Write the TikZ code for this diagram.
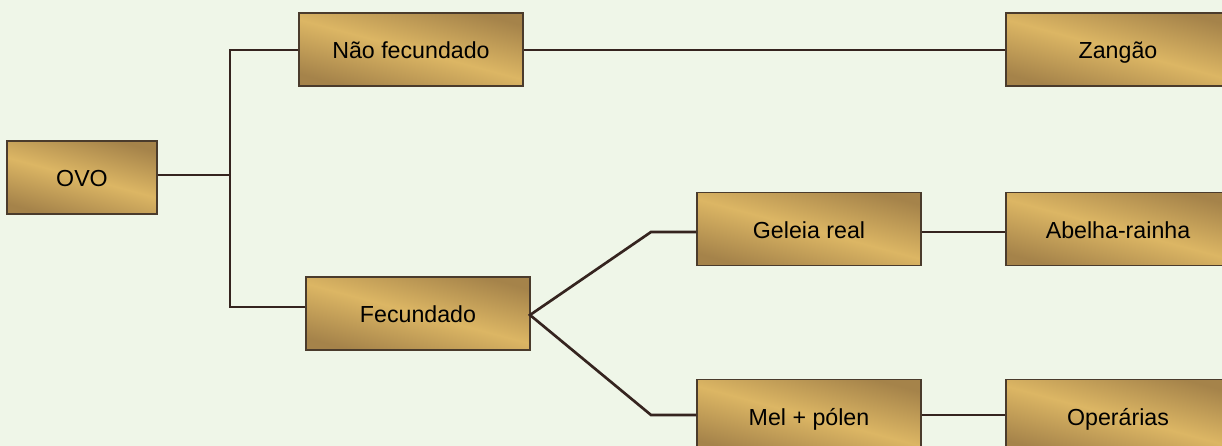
\documentclass[tikz,border=0pt]{standalone}
\usepackage{fontspec}
\setmainfont{Liberation Sans}
\usetikzlibrary{calc}
\definecolor{bgcol}{HTML}{EFF6E8}
\definecolor{golddark}{HTML}{A5834A}
\definecolor{goldlight}{HTML}{DCB664}
\definecolor{edgecol}{HTML}{4A3B2C}
\definecolor{linecol}{HTML}{35241F}
\tikzset{
  stagebox/.style={draw=edgecol, line width=0.9pt, rectangle,
    top color=golddark, bottom color=golddark, middle color=goldlight,
    shading angle=-15, minimum height=1.825cm, minimum width=5.6cm,
    inner sep=0pt, text height=15pt, text depth=1.8pt,
    font=\fontsize{16.5}{20}\selectfont},
  link/.style={draw=linecol, line width=1.9pt}
}

\begin{document}
\begin{tikzpicture}[x=0.025cm, y=-0.025cm]
    \fill [bgcol] (0,0) rectangle (1222,446);
    \useasboundingbox (0,0) rectangle (1222,446);

    \coordinate (J1) at (230,175);
    \coordinate (J2) at (230,50);
    \coordinate (J3) at (230,307);
    \coordinate (K0) at (530,315);
    \coordinate (K1) at (651,232);
    \coordinate (K2) at (651,415);

    \node [stagebox, minimum width=3.75cm] (ovo) at (82,177.5) {OVO};
    \node [stagebox] (naofec) at (411,49.5) {Não fecundado};
    \node [stagebox] (zangao) at (1118,49.5) {Zangão};
    \node [stagebox] (fec) at (418,313.5) {Fecundado};
    \node [stagebox] (geleia) at (809,229) {Geleia real};
    \node [stagebox] (rainha) at (1118,229) {Abelha-rainha};
    \node [stagebox] (mel) at (809,416) {Mel + pólen};
    \node [stagebox] (operarias) at (1118,416) {Operárias};

    \draw [link](ovo.east |- J1) -- (J1);
    \draw [link](J2 -| naofec.west) -- (J2) -- (J3) -- (J3 -| fec.west);
    \draw [link](naofec.east |- J2) -- (J2 -| zangao.west);
    \draw [link](K1 -| geleia.west) -- (K1) -- (K0) -- (K2) -- (K2 -| mel.west);
    \draw [link](geleia.east |- K1) -- (K1 -| rainha.west);
    \draw [link](mel.east |- K2) -- (K2 -| operarias.west);

  \end{tikzpicture}
\end{document}
